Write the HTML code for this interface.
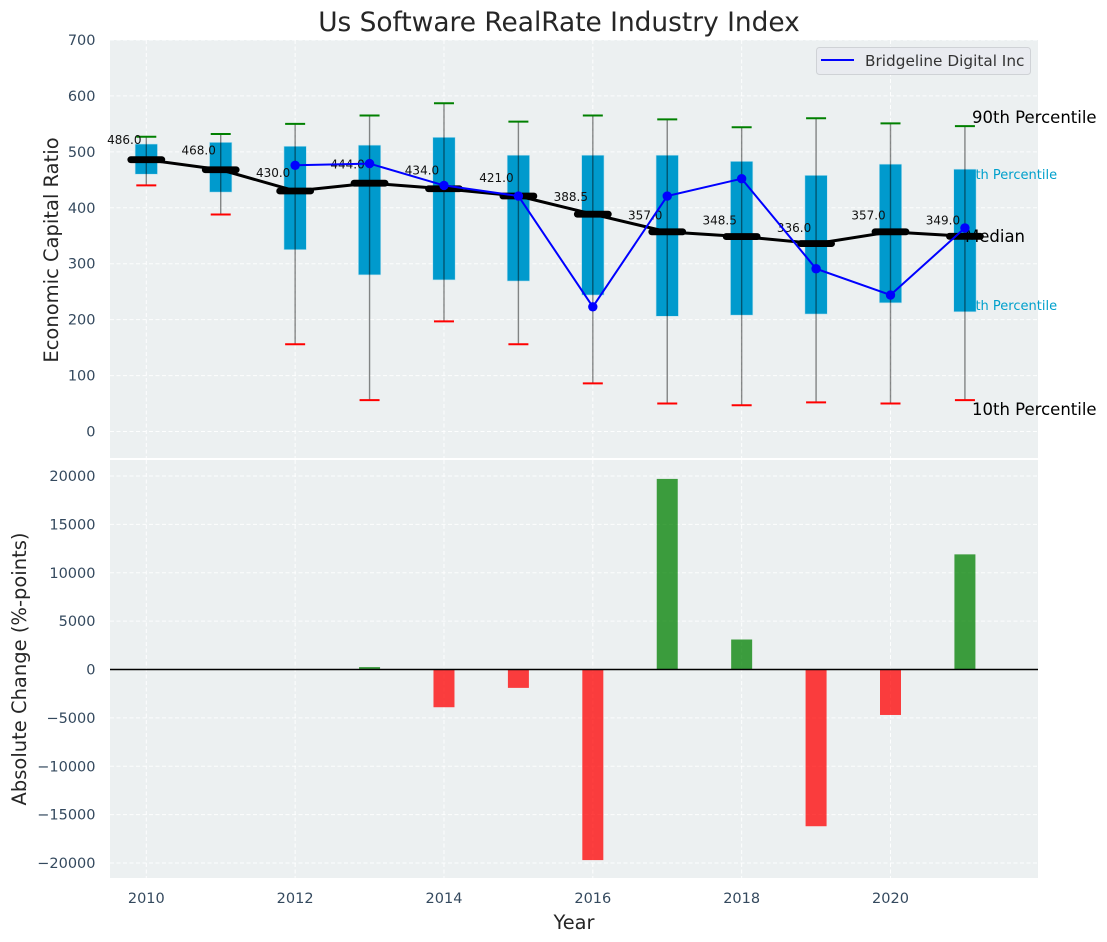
<!DOCTYPE html>
<html>
<head>
<meta charset="utf-8">
<title>Us Software RealRate Industry Index</title>
<style>
html,body{margin:0;padding:0;background:#fff;width:1107px;height:942px;overflow:hidden}
svg{display:block;font-family:"DejaVu Sans","Liberation Sans",sans-serif}
</style>
</head>
<body>
<svg id="chart" xmlns="http://www.w3.org/2000/svg" width="1107" height="942" viewBox="0 0 1107 942"></svg>
<script>
const years = [2010,2011,2012,2013,2014,2015,2016,2017,2018,2019,2020,2021];
const p90 = [527,532,550,565,587,554,565,558,544,560,551,546];
const p75 = [514,517,510,512,526,494,494,494,483,458,478,469];
const medians = [486,468,430,444,434,421,388.5,357,348.5,336,357,349];
const p25 = [460,428,325,280,271,269,244,206,208,210,230,214];
const p10 = [440,388,156,56,197,156,86,50,47,52,50,56];
const companyYears = [2012,2013,2014,2015,2016,2017,2018,2019,2020,2021];
const companyValues = [476,479,440,421,223,421,452,291,244,364];
const changeYears = [2013,2014,2015,2016,2017,2018,2019,2020,2021];
const changeValues = [250,-3900,-1900,-19700,19700,3100,-16200,-4700,11900];
const xTicks = [2010,2012,2014,2016,2018,2020];
const topTicks = [0,100,200,300,400,500,600,700];
const bottomTicks = [-20000,-15000,-10000,-5000,0,5000,10000,15000,20000];

const NS = 'http://www.w3.org/2000/svg';
const svg = document.getElementById('chart');
const L = 110, R = 1038, T1 = 40, B1 = 458, T2 = 460, B2 = 878;
function x(v){ return 146.3 + (v - 2010) * 74.42; }
function yTop(v){ return 431.5 - v * 0.5593; }
function yBottom(v){ return 669.5 - v * 0.009675; }
function mk(tag, attrs, text){
  const e = document.createElementNS(NS, tag);
  for (const k in attrs) e.setAttribute(k, attrs[k]);
  if (text !== undefined) e.textContent = text;
  svg.appendChild(e);
  return e;
}
let el;

el = mk('rect',{x:L,y:T1,width:R-L,height:B1-T1,fill:'#ecf0f1'});


el = mk('rect',{x:L,y:T2,width:R-L,height:B2-T2,fill:'#ecf0f1'});



const gridStyle = {stroke:'#ffffff','stroke-width':1,'stroke-dasharray':'4 2.5','stroke-opacity':0.9,fill:'none'};
xTicks.forEach(function(t){
  el = mk('line',Object.assign({x1:x(t),x2:x(t),y1:T1,y2:B1},gridStyle));
  
  
  el = mk('line',Object.assign({x1:x(t),x2:x(t),y1:T2,y2:B2},gridStyle));
  
  
  el = mk('text',{x:x(t),y:903,'text-anchor':'middle','font-size':14.5,fill:'#34495e'},String(t));
  
  
});
topTicks.forEach(function(t){
  el = mk('line',Object.assign({x1:L,x2:R,y1:yTop(t),y2:yTop(t)},gridStyle));
  
  
  el = mk('text',{x:95.5,y:yTop(t)+5,'text-anchor':'end','font-size':14.5,fill:'#34495e'},String(t));
  
  
});
bottomTicks.forEach(function(t){
  el = mk('line',Object.assign({x1:L,x2:R,y1:yBottom(t),y2:yBottom(t)},gridStyle));
  
  
  el = mk('text',{x:95.5,y:yBottom(t)+5,'text-anchor':'end','font-size':14.5,fill:'#34495e'},String(t).replace('-','\u2212'));
  
  
});

/* percentile annotations sit underneath the boxes */
el = mk('text',{x:1008,y:yTop(p75[11])+10,'text-anchor':'middle','font-size':13,fill:'#00a0cc'},'75th Percentile');


el = mk('text',{x:1008,y:yTop(p25[11])-2,'text-anchor':'middle','font-size':13,fill:'#00a0cc'},'25th Percentile');



years.forEach(function(yr,i){
  const cx = x(yr);
  el = mk('rect',{x:cx-11.2,y:yTop(p75[i]),width:22.4,height:yTop(p25[i])-yTop(p75[i]),fill:'#009acd',stroke:'#bfe3ef','stroke-width':0.6});
  
  
  el = mk('line',{x1:cx,x2:cx,y1:yTop(p90[i]),y2:yTop(p10[i]),stroke:'#000','stroke-opacity':0.45,'stroke-width':1.4});
  
  
  el = mk('line',{x1:cx-10,x2:cx+10,y1:yTop(p90[i]),y2:yTop(p90[i]),stroke:'#008000','stroke-width':2});
  
  
  el = mk('line',{x1:cx-10,x2:cx+10,y1:yTop(p10[i]),y2:yTop(p10[i]),stroke:'#ff0000','stroke-width':2});
  
  
});

el = mk('polyline',{points:years.map(function(y,i){return x(y)+','+yTop(medians[i]);}).join(' '),fill:'none',stroke:'#000','stroke-width':3});



el = mk('text',{x:972,y:yTop(p90[11])+-3,'font-size':16.5,fill:'#000'},'90th Percentile');


el = mk('text',{x:965,y:yTop(medians[11])+5.5,'font-size':16.5,fill:'#000'},'Median');


el = mk('text',{x:972,y:yTop(p10[11])+15,'font-size':16.5,fill:'#000'},'10th Percentile');



years.forEach(function(yr,i){
  const cx = x(yr);
  el = mk('line',{x1:cx-15.5,x2:cx+15.5,y1:yTop(medians[i]),y2:yTop(medians[i]),stroke:'#000','stroke-width':6.8,'stroke-linecap':'round'});
  
  
  el = mk('text',{x:cx-22,y:yTop(medians[i]*1.048+12.5)+4.4,'text-anchor':'middle','font-size':12,fill:'#111'},medians[i].toFixed(1));
  
  
});

el = mk('polyline',{points:companyYears.map(function(y,i){return x(y)+','+yTop(companyValues[i]);}).join(' '),fill:'none',stroke:'#0000ff','stroke-width':2});


companyYears.forEach(function(y,i){
  el = mk('circle',{cx:x(y),cy:yTop(companyValues[i]),r:4.7,fill:'#0000ff'});
  
  
});

changeYears.forEach(function(y,i){
  const v = changeValues[i];
  const y0 = yBottom(Math.max(v,0)), y1 = yBottom(Math.min(v,0));
  el = mk('rect',{x:x(y)-10.5,y:y0,width:21,height:y1-y0,fill:v>=0?'#008000':'#ff0000','fill-opacity':0.75});
  
  
});
el = mk('line',{x1:L,x2:R,y1:yBottom(0),y2:yBottom(0),stroke:'#000','stroke-width':1.4});



el = mk('rect',{x:816.5,y:47.5,width:214,height:27,rx:3,fill:'#e9ebf0',stroke:'#cfd2d6','stroke-width':1});


el = mk('line',{x1:821,x2:854,y1:60,y2:60,stroke:'#0000ff','stroke-width':2});


el = mk('text',{x:865,y:66,'font-size':15.3,fill:'#333'},'Bridgeline Digital Inc');



el = mk('text',{x:559,y:31,'text-anchor':'middle','font-size':26.4,fill:'#262626'},'Us Software RealRate Industry Index');


el = mk('text',{x:574,y:929,'text-anchor':'middle','font-size':19.4,fill:'#262626'},'Year');


el = mk('text',{transform:'translate(58,250) rotate(-90)','text-anchor':'middle','font-size':19.5,fill:'#262626'},'Economic Capital Ratio');


el = mk('text',{transform:'translate(26,669) rotate(-90)','text-anchor':'middle','font-size':19.5,fill:'#262626'},'Absolute Change (%-points)');


</script>
</body>
</html>
